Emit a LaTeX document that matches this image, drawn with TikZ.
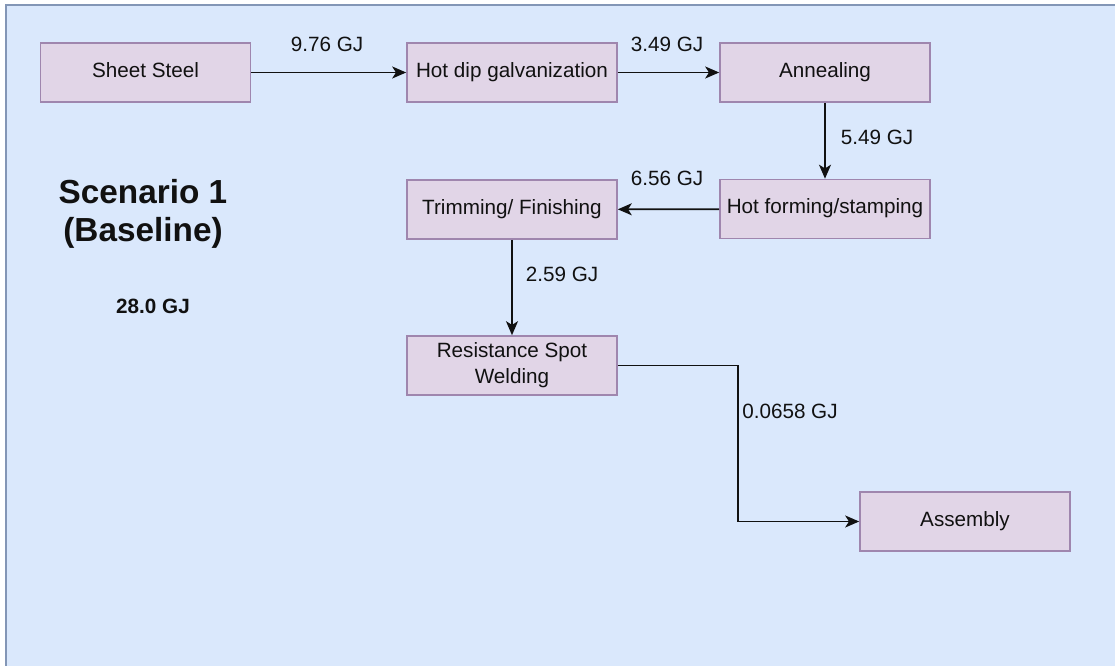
\documentclass[tikz,border=0pt]{standalone}
\usepackage{fontspec}
\setmainfont{Liberation Sans}
\usetikzlibrary{arrows.meta}
\definecolor{panelfill}{HTML}{DAE8FC}
\definecolor{panelline}{HTML}{8396B6}
\definecolor{boxfill}{HTML}{E1D5E7}
\definecolor{boxline}{HTML}{9F86AE}
\definecolor{ink}{HTML}{111111}
\tikzset{
  stage/.style={draw=boxline, fill=boxfill, line width=1.2pt,
    minimum width=157.5pt, minimum height=44.25pt, inner sep=0pt,
    text=ink, font=\fontsize{15.5}{19}\selectfont,
    text height=0.716em, text depth=0pt},
  stagetwo/.style={draw=boxline, fill=boxfill, line width=1.2pt,
    minimum width=157.5pt, minimum height=44.25pt, inner sep=0pt,
    text=ink, font=\fontsize{15.5}{19.5}\selectfont, align=center},
  flow/.style={draw=ink, line width=1.3pt,
    -{Stealth[length=10.5pt, width=9pt, inset=2.8pt]}},
  qty/.style={text=ink, inner sep=0pt, font=\fontsize{15.5}{19}\selectfont,
    text height=0.716em, text depth=0pt},
}
\begin{document}
\begin{tikzpicture}[x=0.75pt, y=-0.75pt]
  \useasboundingbox (0,0) rectangle (1115,666);
  \clip (0,0) rectangle (1115,666);
  % background panel
  \draw[fill=panelfill, draw=panelline, line width=1.6pt] (6,5) rectangle (1125,676);

  % process stages
  \node[stage] (steel)    at (145.5,72.5) {Sheet Steel};
  \node[stage] (galv)     at (512,72.5)   {Hot dip galvanization};
  \node[stage] (anneal)   at (825,72.5)   {Annealing};
  \node[stage] (hotform)  at (825,209)    {Hot forming/stamping};
  \node[stage] (trim)     at (512,209.5)  {Trimming/ Finishing};
  \node[stagetwo] (weld)  at (512,365.5)  {Resistance Spot\\Welding};
  \node[stage] (assembly) at (965,521.5)  {Assembly};

  % energy flows
  \draw[flow] (steel) -- (galv);
  \draw[flow] (galv) -- (anneal);
  \draw[flow] (anneal) -- (hotform);
  \draw[flow] (hotform) -- (trim);
  \draw[flow] (trim) -- (weld);
  \coordinate (bendA) at (738,365.5);
  \coordinate (bendB) at (738,521.5);
  \draw[flow] (weld.east) -- (bendA) -- (bendB) -- (assembly.west);

  % flow quantities
  \node[qty] (q1) at (327,47)  {9.76 GJ};
  \node[qty] (q2) at (667,47)  {3.49 GJ};
  \node[qty] (q3) at (877,140) {5.49 GJ};
  \node[qty] (q4) at (667,181) {6.56 GJ};
  \node[qty] (q5) at (562,277) {2.59 GJ};
  \node[qty] (q6) at (790,414) {0.0658 GJ};

  % scenario heading and total
  \node[text=ink, align=center, inner sep=0pt,
        font=\bfseries\fontsize{25}{28.5}\selectfont] (title) at (143,214)
        {Scenario 1\\(Baseline)};
  \node[qty, font=\bfseries\fontsize{15.5}{19}\selectfont] (total) at (153,309) {28.0 GJ};
\end{tikzpicture}
\end{document}
